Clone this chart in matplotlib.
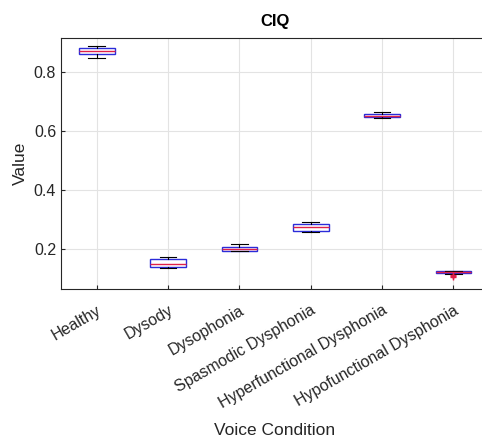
import matplotlib
matplotlib.use('Agg')
import matplotlib.pyplot as plt

plt.rcParams['font.family'] = ['Liberation Sans', 'DejaVu Sans']

conditions = ['Healthy', 'Dysody', 'Dysophonia', 'Spasmodic Dysphonia',
              'Hyperfunctional Dysphonia', 'Hypofunctional Dysphonia']
whislo = [0.847, 0.135, 0.193, 0.258, 0.645, 0.115]
q1     = [0.861, 0.140, 0.194, 0.260, 0.647, 0.118]
med    = [0.872, 0.151, 0.200, 0.274, 0.652, 0.121]
q3     = [0.882, 0.165, 0.208, 0.284, 0.656, 0.126]
whishi = [0.886, 0.173, 0.217, 0.293, 0.664, 0.127]
fliers = [[], [], [], [], [], [0.112, 0.108, 0.104]]

stats = []
for i in range(len(conditions)):
    stats.append({'label': conditions[i], 'whislo': whislo[i], 'q1': q1[i], 'med': med[i],
                  'q3': q3[i], 'whishi': whishi[i], 'fliers': fliers[i]})

fig = plt.figure(figsize=(4.82, 4.37), dpi=100)
ax = fig.add_axes([0.1266, 0.3387, 0.888, 0.574])

ax.bxp(stats, positions=range(1, 7), widths=0.5, showfliers=True, patch_artist=True,
       boxprops=dict(facecolor='white', edgecolor='#2b2bd9', linewidth=1.0),
       medianprops=dict(color='#e0204a', linewidth=1.0),
       whiskerprops=dict(color='black', linewidth=0.8),
       capprops=dict(color='black', linewidth=0.8),
       capwidths=0.23,
       flierprops=dict(marker='+', markeredgecolor='#e0204a', markersize=5))

ax.set_xlim(0.5, 6.5)
ax.set_ylim(0.065, 0.914)
ax.set_yticks([0.2, 0.4, 0.6, 0.8])
ax.set_xticks(range(1, 7))
ax.set_xticklabels(conditions, rotation=30, ha='right', rotation_mode='anchor', fontsize=11.5, color='#262626')
ax.tick_params(axis='both', direction='in', length=3, colors='#262626', labelsize=11.5)
ax.tick_params(axis='x', pad=10)
ax.grid(True, color='#e3e3e3', linewidth=0.8)
ax.set_axisbelow(True)
for s in ax.spines.values():
    s.set_color('#262626')
    s.set_linewidth(0.8)

ax.set_title('CIQ', fontsize=12, fontweight='bold', pad=9)
ax.set_ylabel('Value', fontsize=12.5, color='#262626')
ax.set_xlabel('Voice Condition', fontsize=12.5, color='#262626', labelpad=8)

fig.savefig('out.png', dpi=100)
